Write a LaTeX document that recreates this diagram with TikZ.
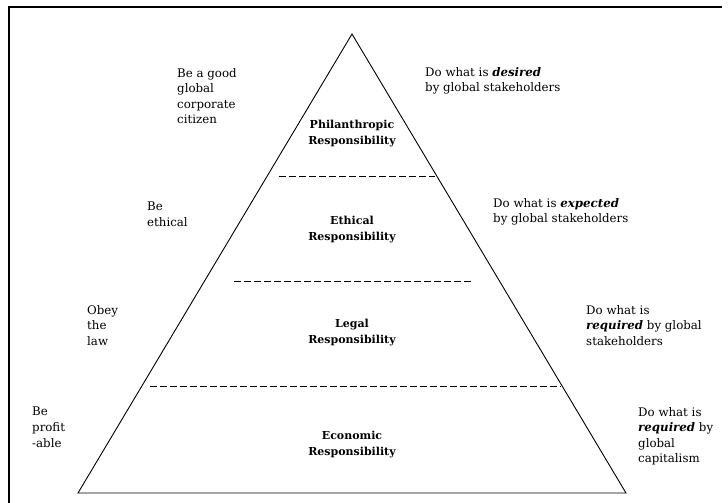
\documentclass[tikz,border=0pt]{standalone}
\usepackage{fontspec}
\setmainfont{DejaVu Serif}
\usetikzlibrary{positioning}

\begin{document}
\begin{tikzpicture}[x=1pt, y=-1pt,
    txt/.style={anchor=north west, inner sep=0pt, align=left,
                font=\fontsize{11.8}{15.6}\selectfont},
    resp/.style={anchor=north, inner sep=0pt, align=center,
                 font=\bfseries\fontsize{11}{15.6}\selectfont},
    tier/.style={dash pattern=on 7pt off 3pt, line width=0.9pt}
  ]
  \useasboundingbox (0,0) rectangle (728,503);
  % frame of the page
  \draw[line width=2.5pt] (9,503) -- (9,7) -- (722,7);

  % the pyramid
  \coordinate (apex) at (352,34);
  \coordinate (bl) at (78,493);
  \coordinate (br) at (626,493);
  \draw[line width=0.9pt] (bl) -- (apex) -- (br) -- cycle;

  % dashed borders between the levels
  \draw[tier] (279,176) -- (435,176);
  \draw[tier] (234,281) -- (473,281);
  \draw[tier] (150,386) -- (561,386);

  % levels
  \node[resp] (phil) at (352,120) {Philanthropic\\Responsibility};
  \node[resp] (eth)  at (352,216) {Ethical\\Responsibility};
  \node[resp] (leg)  at (352,319) {Legal\\Responsibility};
  \node[resp] (eco)  at (352,431) {Economic\\Responsibility};

  % what the firm should do
  \node[txt] (citizen) at (177,68)  {Be a good\\global\\corporate\\citizen};
  \node[txt] (ethical) at (147,202) {Be\\ethical};
  \node[txt] (law)     at (87,305)  {Obey\\the\\law};
  \node[txt] (profit)  at (32,407)  {Be\\profit\\-able};

  % what the stakeholders want
  \node[txt] (desired)  at (425,67)  {Do what is \textbf{\textit{desired}}\\by global stakeholders};
  \node[txt] (expected) at (493,198) {Do what is \textbf{\textit{expected}}\\by global stakeholders};
  \node[txt] (reqstake) at (586,305) {Do what is\\\textbf{\textit{required}} by global\\stakeholders};
  \node[txt] (reqcap)   at (638,407) {Do what is\\\textbf{\textit{required}} by\\global\\capitalism};
\end{tikzpicture}
\end{document}
